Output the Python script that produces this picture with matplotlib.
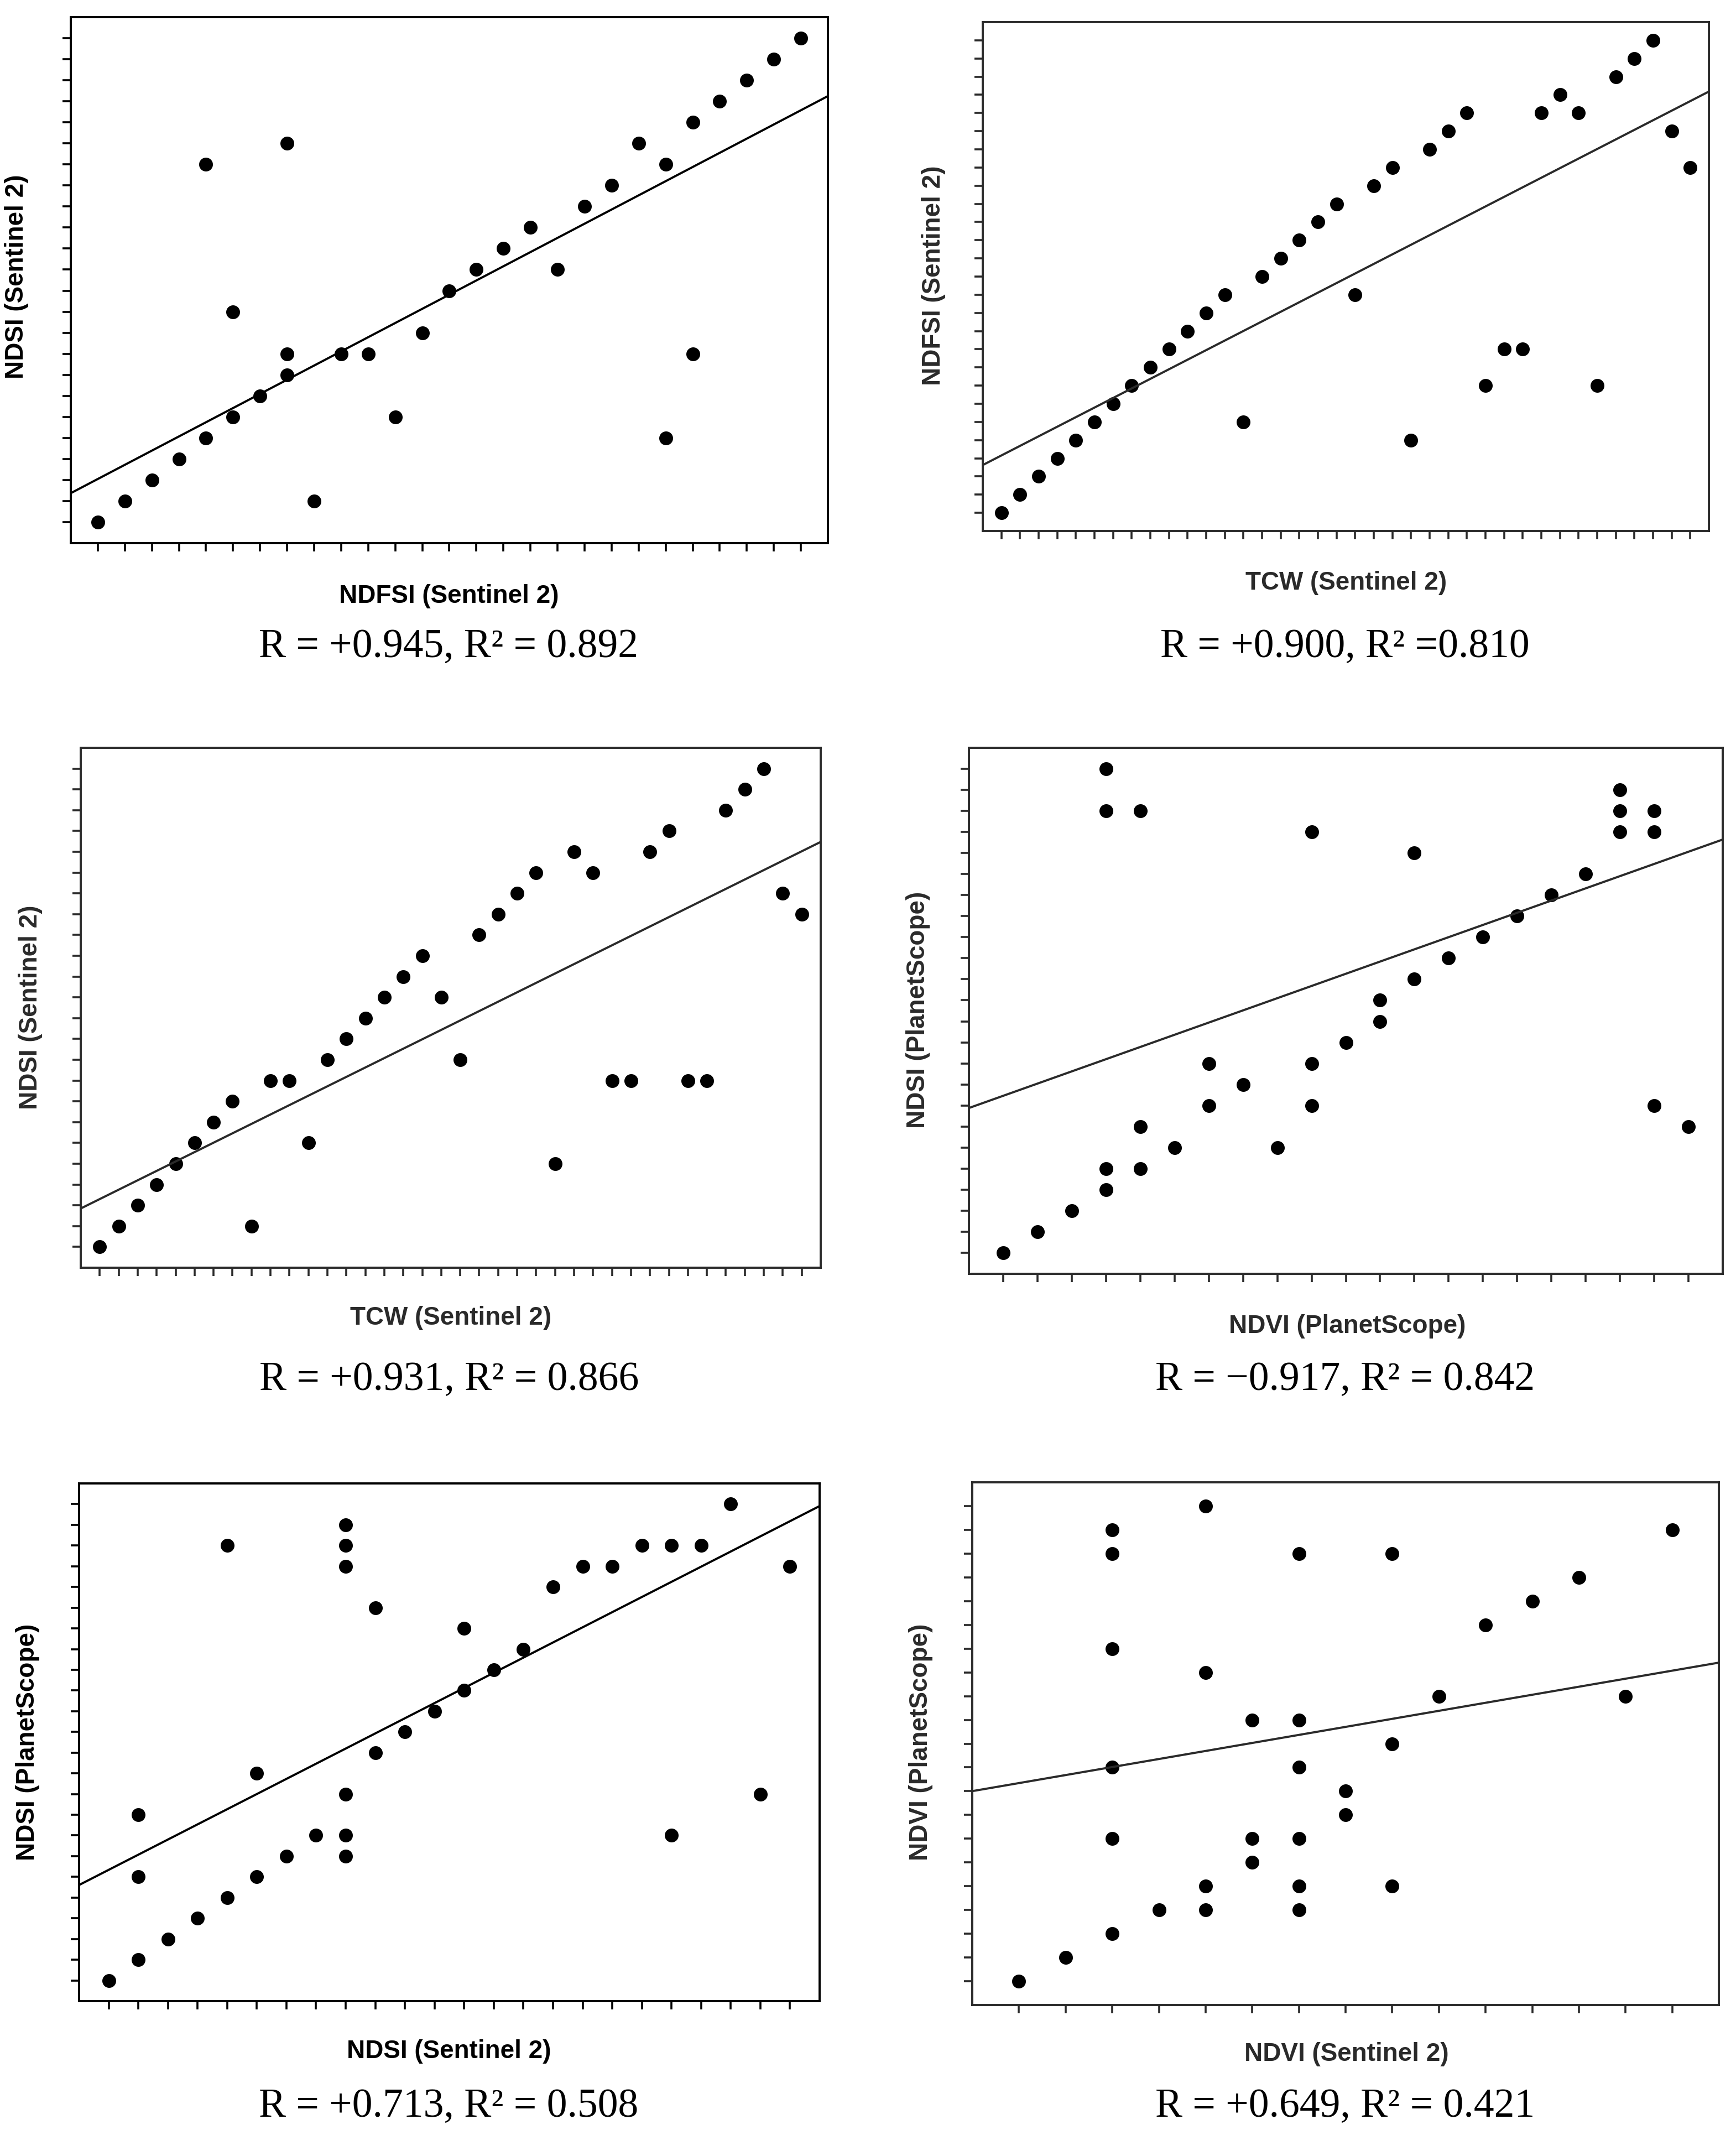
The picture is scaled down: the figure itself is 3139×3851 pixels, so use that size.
import matplotlib
matplotlib.use("Agg")
import matplotlib.pyplot as plt

# valores (posición en la rejilla de ticks)
p1_x = [0, 1, 2, 3, 4, 5, 6, 7, 7, 8, 9, 10, 11, 12, 13, 14, 15, 16, 17, 18, 19, 20, 21, 21, 22, 22, 23, 24, 25, 26, 4, 5, 7]
p1_y = [0, 1, 2, 3, 4, 5, 6, 7, 8, 1, 8, 8, 5, 9, 11, 12, 13, 14, 12, 15, 16, 18, 17, 4, 19, 8, 20, 21, 22, 23, 17, 10, 18]

p2_x = list(range(38))
p2_y = [0, 1, 2, 3, 4, 5, 6, 7, 8, 9, 10, 11, 12, 5, 13, 14, 15, 16, 17, 12, 18, 19, 4, 20, 21, 22, 7, 9, 9, 22, 23, 22, 7, 24, 25, 26, 21, 19]

p3_x = list(range(38))
p3_y = [0, 1, 2, 3, 4, 5, 6, 7, 1, 8, 8, 5, 9, 10, 11, 12, 13, 14, 12, 9, 15, 16, 17, 18, 4, 19, 18, 8, 8, 19, 20, 8, 8, 21, 22, 23, 17, 16]

p4_x = [0, 1, 2, 3, 3, 3, 3, 4, 4, 4, 5, 6, 6, 7, 8, 9, 9, 9, 10, 11, 11, 12, 12, 13, 14, 15, 16, 17, 18, 18, 18, 19, 19, 19, 20]
p4_y = [0, 1, 2, 3, 4, 21, 23, 4, 6, 21, 5, 7, 9, 8, 5, 7, 9, 20, 10, 11, 12, 13, 19, 14, 15, 16, 17, 18, 22, 21, 20, 21, 20, 7, 6]

p5_x = [0, 1, 1, 1, 2, 3, 4, 4, 5, 5, 6, 7, 8, 8, 8, 8, 8, 8, 9, 9, 10, 11, 12, 12, 13, 14, 15, 16, 17, 18, 19, 19, 20, 21, 22, 23]
p5_y = [0, 1, 5, 8, 2, 3, 4, 21, 5, 10, 6, 7, 6, 7, 9, 20, 21, 22, 11, 18, 12, 13, 14, 17, 15, 16, 19, 20, 20, 21, 21, 7, 21, 23, 9, 20]

p6_x = [0, 1, 2, 2, 2, 2, 2, 2, 3, 4, 4, 4, 4, 5, 5, 5, 6, 6, 6, 6, 6, 6, 7, 7, 8, 8, 8, 9, 10, 11, 12, 13, 14]
p6_y = [0, 1, 2, 6, 9, 14, 18, 19, 3, 3, 4, 13, 20, 5, 6, 11, 3, 4, 6, 9, 11, 18, 7, 8, 4, 10, 18, 12, 15, 16, 17, 12, 19]

# número de ticks por eje
n_xticks = [27, 38, 38, 21, 24, 15]
n_yticks = [24, 27, 24, 24, 24, 21]

# recta de ajuste (pendiente, ordenada)
fit_slope = [0.674, 0.527, 0.452, 0.580, 0.732, 0.338]
fit_icpt = [2.05, 3.155, 2.30, 7.46, 5.34, 8.34]

xlabels = ["NDFSI (Sentinel 2)", "TCW (Sentinel 2)", "TCW (Sentinel 2)",
           "NDVI (PlanetScope)", "NDSI (Sentinel 2)", "NDVI (Sentinel 2)"]
ylabels = ["NDSI (Sentinel 2)", "NDFSI (Sentinel 2)", "NDSI (Sentinel 2)",
           "NDSI (PlanetScope)", "NDSI (PlanetScope)", "NDVI (PlanetScope)"]
captions = ["R = +0.945, R\u00b2 = 0.892", "R = +0.900, R\u00b2 =0.810",
            "R = +0.931, R\u00b2 = 0.866", "R = \u22120.917, R\u00b2 = 0.842",
            "R = +0.713, R\u00b2 = 0.508", "R = +0.649, R\u00b2 = 0.421"]

xs = [p1_x, p2_x, p3_x, p4_x, p5_x, p6_x]
ys = [p1_y, p2_y, p3_y, p4_y, p5_y, p6_y]

W, H = 3139, 3851
fig = plt.figure(figsize=(W / 100, H / 100), dpi=100)

# cajas de los ejes en píxeles: izq, der, arriba, abajo
boxes = [(128, 1497, 31, 982), (1777, 3090, 40, 960),
         (146, 1484, 1352, 2292), (1752, 3115, 1352, 2303),
         (143, 1482, 2682, 3618), (1758, 3108, 2680, 3625)]
xlab_pos = [(812, 1078), (2434, 1054), (815, 2383), (2436, 2398), (812, 3709), (2435, 3714)]
ylab_pos = [(30, 500), (1688, 498), (55, 1821), (1660, 1826), (50, 3150), (1665, 3150)]
cap_pos = [(811, 1188), (2432, 1188), (812, 2513), (2432, 2513), (811, 3827), (2432, 3827)]
colors = ["black", "#2a2a2a", "#2a2a2a", "#2a2a2a", "black", "#2a2a2a"]

for k in range(6):
    l, r, t, b = boxes[k]
    ax = fig.add_axes([l / W, 1 - b / H, (r - l) / W, (b - t) / H])
    c = colors[k]
    ax.plot(xs[k], ys[k], 'o', color='black', markersize=18, markeredgewidth=0)
    x0, x1 = -1, n_xticks[k]
    ax.plot([x0, x1], [fit_icpt[k] + fit_slope[k] * x0, fit_icpt[k] + fit_slope[k] * x1],
            color=c, linewidth=2.8)
    ax.set_xlim(x0, x1)
    ax.set_ylim(-1, n_yticks[k])
    ax.set_xticks(range(n_xticks[k]))
    ax.set_yticks(range(n_yticks[k]))
    ax.set_xticklabels([])
    ax.set_yticklabels([])
    ax.tick_params(length=11, width=2.6, color=c, direction='out')
    for s in ax.spines.values():
        s.set_linewidth(2.8)
        s.set_color(c)

    fig.text(xlab_pos[k][0] / W, 1 - xlab_pos[k][1] / H, xlabels[k], ha='center', va='center',
             fontsize=33, fontweight='bold', family='Liberation Sans', color=c)
    fig.text(ylab_pos[k][0] / W, 1 - ylab_pos[k][1] / H, ylabels[k], ha='center', va='center',
             rotation=90, fontsize=33, fontweight='bold', family='Liberation Sans', color=c)
    fig.text(cap_pos[k][0] / W, 1 - cap_pos[k][1] / H, captions[k], ha='center', va='baseline',
             fontsize=53, family='Liberation Serif', color='black')

fig.savefig("out.png", dpi=100, facecolor='white')
